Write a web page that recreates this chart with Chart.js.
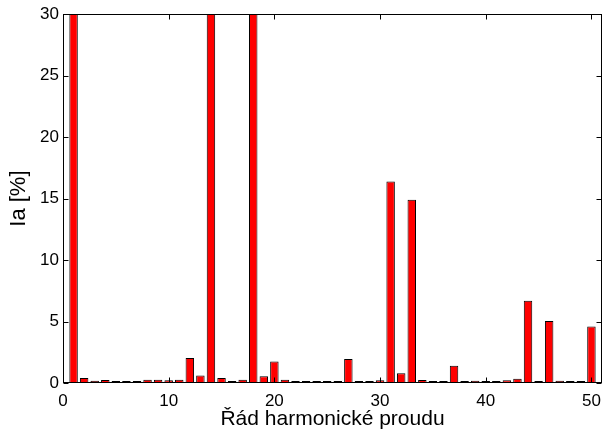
<!DOCTYPE html>
<html>
<head>
<meta charset="utf-8">
<script src="https://cdn.jsdelivr.net/npm/chart.js@4"></script>
<style>
    html, body { margin: 0; padding: 0; background: #fff; }
    #wrap { width: 604px; height: 434px; }
</style>
</head>
<body>
<div id="wrap"><canvas id="chart"></canvas></div>
<script>
// harmonic orders 1..50
const orders = [];
for (let i = 1; i <= 50; i++) orders.push(i);

// Ia [%] per harmonic order (1, 14, 18 go off the top of the axis)
const values = [
    100, 0.4, 0.19, 0.25, 0.1, 0.02, 0.1, 0.27, 0.27, 0.22,
    0.27, 2.03, 0.62, 40, 0.4, 0.1, 0.27, 40, 0.54, 1.75,
    0.27, 0.17, 0.17, 0.17, 0.17, 0.08, 1.95, 0.08, 0.08, 0.22,
    16.4, 0.8, 14.9, 0.25, 0.1, 0.1, 1.4, 0.1, 0.18, 0.03,
    0.1, 0.22, 0.35, 6.7, 0.02, 5.05, 0.18, 0.02, 0.1, 4.6
];

const xTicks = [0, 10, 20, 30, 40, 50];
const yTicks = [0, 5, 10, 15, 20, 25, 30];

const xTitle = 'Řád harmonické proudu';
const yTitle = 'Ia [%]';

const font = 'Liberation Sans, Arial, sans-serif';

// MATLAB style box with inward ticks on all four sides
const boxPlugin = {
    id: 'box',
    afterDraw(chart) {
        const { ctx, chartArea: a, scales } = chart;
        const L = Math.round(a.left) + 0.5, R = Math.round(a.right) - 0.5;
        const T = Math.round(a.top) + 0.5, B = Math.round(a.bottom) - 0.5;
        ctx.save();
        ctx.strokeStyle = '#000';
        ctx.lineWidth = 1;
        ctx.strokeRect(L, T, R - L, B - T);
        ctx.beginPath();
        xTicks.forEach(v => {
            const px = Math.round(scales.x.getPixelForValue(v)) + 0.5;
            ctx.moveTo(px, B); ctx.lineTo(px, B - 5);
            ctx.moveTo(px, T); ctx.lineTo(px, T + 5);
        });
        yTicks.forEach(v => {
            const py = Math.round(scales.y.getPixelForValue(v)) + 0.5;
            ctx.moveTo(L, py); ctx.lineTo(L + 5, py);
            ctx.moveTo(R, py); ctx.lineTo(R - 5, py);
        });
        ctx.stroke();
        ctx.restore();
    }
};

new Chart(document.getElementById('chart'), {
    type: 'bar',
    data: {
        datasets: [{
            data: orders.map((o, i) => ({ x: o, y: values[i] })),
            backgroundColor: '#ff0000',
            borderColor: '#000000',
            borderWidth: 1,
            borderSkipped: false,
            minBarLength: 2,
            categoryPercentage: 0.8,
            barPercentage: 1
        }]
    },
    options: {
        responsive: true,
        maintainAspectRatio: false,
        animation: false,
        layout: { padding: { top: 10, right: 2, left: 0, bottom: 0 } },
        plugins: { legend: { display: false }, tooltip: { enabled: false } },
        scales: {
            x: {
                type: 'linear',
                min: 0,
                max: 51,
                offset: false,
                afterFit: s => { s.height = 51; s.paddingRight = 0; s.paddingLeft = 0; },
                afterBuildTicks: s => { s.ticks = xTicks.map(v => ({ value: v })); },
                grid: { display: false, drawTicks: false },
                border: { display: false },
                ticks: { color: '#000', font: { family: font, size: 17 }, padding: 8, maxRotation: 0 },
                title: { display: true, text: xTitle, color: '#000', font: { family: font, size: 21 }, padding: { top: 0, bottom: 2 } }
            },
            y: {
                min: 0,
                max: 30,
                afterFit: s => { s.width = 63; },
                afterBuildTicks: s => { s.ticks = yTicks.map(v => ({ value: v })); },
                grid: { display: false, drawTicks: false },
                border: { display: false },
                ticks: { color: '#000', font: { family: font, size: 17 }, padding: 4 },
                title: { display: true, text: yTitle, color: '#000', font: { family: font, size: 22 }, padding: { top: 6, bottom: 0 } }
            }
        }
    },
    plugins: [boxPlugin]
});
</script>
</body>
</html>
